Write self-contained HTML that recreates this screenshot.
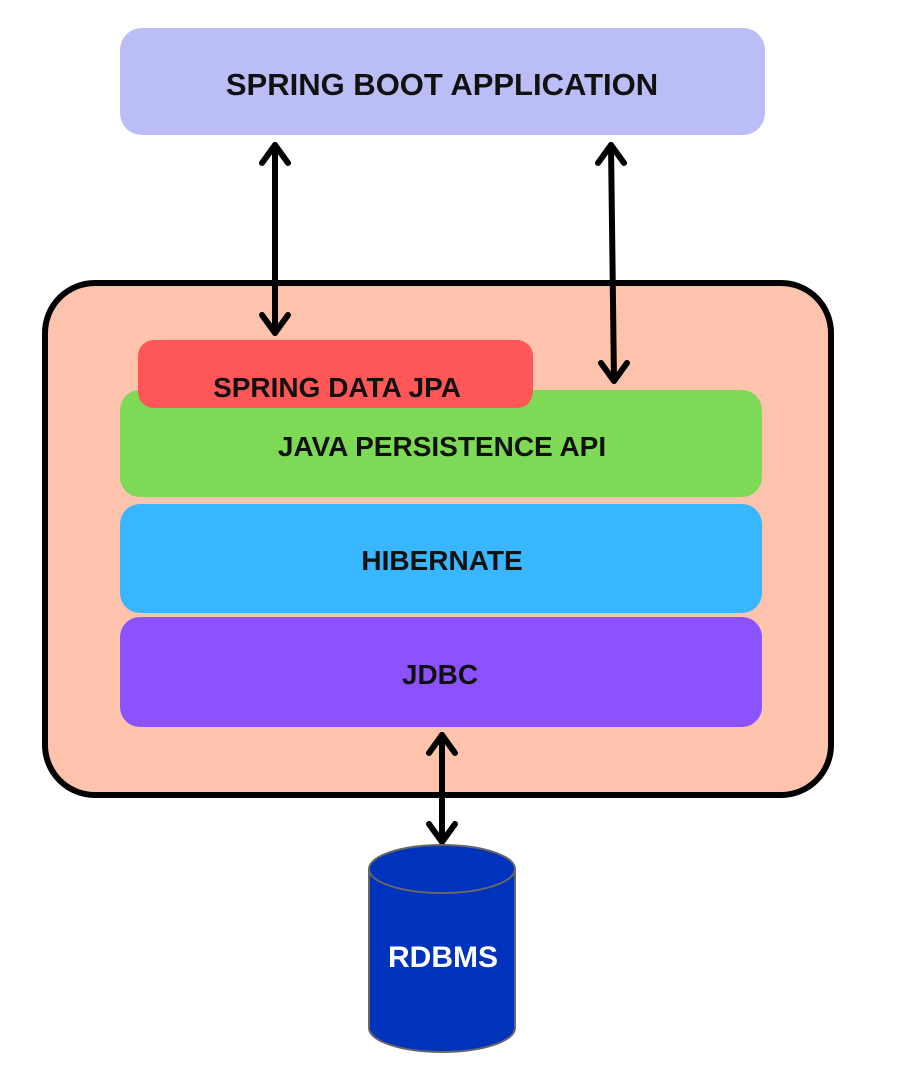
<!DOCTYPE html>
<html><head><style>
body{margin:0;background:#fff;}
</style></head><body>
<svg width="908" height="1072" xmlns="http://www.w3.org/2000/svg" style="display:block">
<rect x="0" y="0" width="908" height="1072" fill="#fff"/>
<rect x="120" y="28" width="645" height="107" rx="22" fill="#bbbdf6"/>
<text x="442" y="95" text-anchor="middle" font-family="Liberation Sans, sans-serif" font-weight="bold" font-size="31" fill="#111">SPRING BOOT APPLICATION</text>
<rect x="45" y="283" width="786" height="512" rx="50" fill="#fec3ad" stroke="#000" stroke-width="6"/>
<rect x="120" y="390" width="642" height="107" rx="20" fill="#7ed957"/>
<rect x="138" y="340" width="395" height="68" rx="16" fill="#ff5757"/>
<text x="337" y="397" text-anchor="middle" font-family="Liberation Sans, sans-serif" font-weight="bold" font-size="28" fill="#111">SPRING DATA JPA</text>
<text x="442" y="456" text-anchor="middle" font-family="Liberation Sans, sans-serif" font-weight="bold" font-size="28" fill="#111">JAVA PERSISTENCE API</text>
<rect x="120" y="504" width="642" height="109" rx="20" fill="#38b6ff"/>
<text x="442" y="570" text-anchor="middle" font-family="Liberation Sans, sans-serif" font-weight="bold" font-size="28" fill="#111">HIBERNATE</text>
<rect x="120" y="617" width="642" height="110" rx="20" fill="#8c52ff"/>
<text x="440" y="684" text-anchor="middle" font-family="Liberation Sans, sans-serif" font-weight="bold" font-size="28" fill="#111">JDBC</text>
<g stroke="#000" stroke-width="6" fill="none" stroke-linecap="round" stroke-linejoin="round">
<line x1="275" y1="145" x2="275" y2="333"/>
<polyline points="262,163 275,145 288,163"/>
<polyline points="262,315 275,333 288,315"/>
<line x1="611" y1="145" x2="614" y2="381"/>
<polyline points="598,163 611,145 624,163"/>
<polyline points="601,363 614,381 627,363"/>
<line x1="442" y1="735" x2="442" y2="842"/>
<polyline points="429,753 442,735 455,753"/>
<polyline points="429,824 442,842 455,824"/>
</g>
<path d="M369,869 L369,1028 A73,24 0 0 0 515,1028 L515,869" fill="#0033bb" stroke="#666" stroke-width="2"/>
<ellipse cx="442" cy="869" rx="73" ry="24" fill="#0033bb" stroke="#666" stroke-width="2"/>
<text x="443" y="967" text-anchor="middle" font-family="Liberation Sans, sans-serif" font-weight="bold" font-size="30" fill="#fff">RDBMS</text>
</svg>
</body></html>
